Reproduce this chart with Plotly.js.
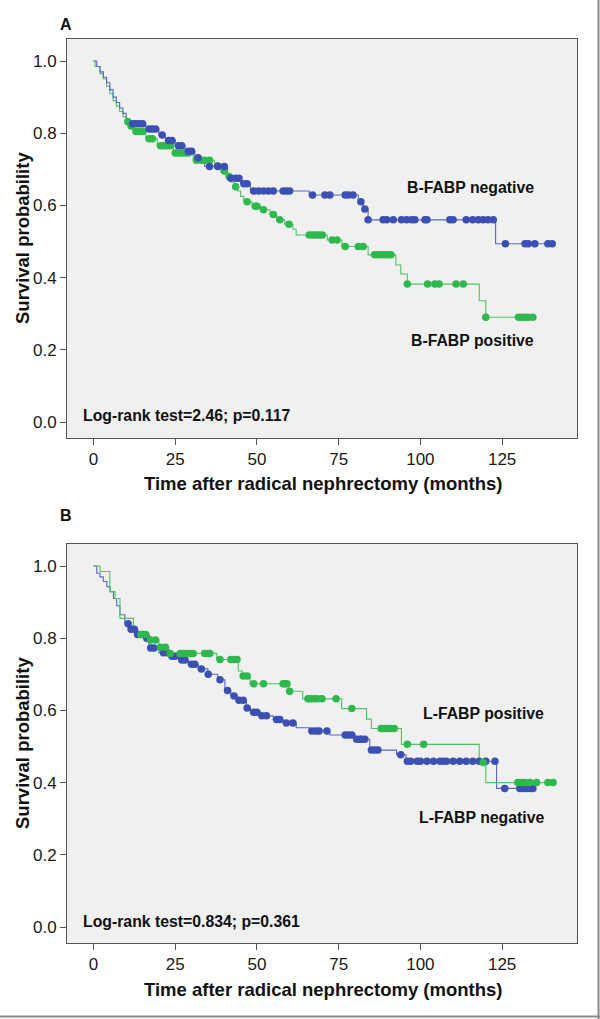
<!DOCTYPE html>
<html><head><meta charset="utf-8">
<script src="https://cdn.plot.ly/plotly-3.0.1.min.js"></script>
<style>html,body{margin:0;padding:0;background:#fff}#chart{width:600px;height:1019px}</style>
</head><body><div id="chart"></div>
<script>
// ---------- Panel A: B-FABP ----------
const aNegTimes = [0,1,2,3,4,5,6,7,8,9,10,11,16,20,22,25,28,31,34,41,45,48,66,81,82.5,84,123];
const aNegSurv  = [1,0.985,0.97,0.955,0.94,0.92,0.90,0.885,0.87,0.855,0.84,0.826,0.812,0.795,0.78,0.765,0.75,0.732,0.708,0.675,0.66,0.64,0.629,0.61,0.59,0.560,0.494];
const aNegCensor = [12,13,14,15,17,18,19,21,23,24,26,27,29,30,32,35.5,38,40,42,43.5,44.5,46,47,49,50.5,52,53.5,55,58,59,60,67,70.8,72.3,77,78,79.4,81.8,83,84,88.6,89.7,91.7,94.2,95.8,97.3,98.3,101.4,102,109,110,114,116,117.7,119.2,120.7,122.3,126,132,133,135,139,140.3];

const aPosTimes = [0,0.5,2,3,4,5,6,7,8,9,10,11,12.2,16,19.5,24.5,30.5,37,39,41,42,43,44,45,46,48.5,51,54,56,58.5,61,62,71.5,76,84,92.5,94,96,118,120];
const aPosSurv  = [1,0.985,0.965,0.95,0.93,0.91,0.89,0.875,0.86,0.845,0.832,0.82,0.805,0.785,0.765,0.745,0.725,0.71,0.695,0.68,0.665,0.652,0.64,0.625,0.61,0.598,0.588,0.575,0.56,0.548,0.534,0.518,0.504,0.486,0.463,0.435,0.41,0.382,0.336,0.29];
const aPosCensor = [10.5,11.5,13,14,15,17,18,20.5,21.5,22.5,23.5,25,26,27,28,29,31.5,33,34,35.5,38,40,41.5,43.5,47,49.5,50,52,55,57,59.8,66,67,68,69,70,73,74.5,77,81,82.5,86,87,88,89,90,91,96,102.2,104.4,105.7,110.9,113.1,120,130,131,132,133,134.4];

// ---------- Panel B: L-FABP ----------
const bNegTimes = [0,1,2,3,4.1,5.1,6.1,7.1,8.1,9.6,11,13.5,15.5,17,20,23,26,29,32,35,38,40.2,42,44,46.8,48,51,55,58,62,66,72.3,80,84.5,92.7,95.6,123.3];
const bNegSurv  = [1,0.98,0.97,0.957,0.943,0.929,0.91,0.89,0.865,0.84,0.825,0.81,0.80,0.773,0.76,0.75,0.74,0.728,0.715,0.70,0.685,0.655,0.64,0.628,0.607,0.595,0.585,0.575,0.565,0.552,0.543,0.532,0.52,0.49,0.477,0.459,0.384];
const bNegCensor = [10.6,11.5,12.5,13.5,15,16.3,17.5,18.5,21.4,22.5,24,25,27,28,30,31,33,35.1,38.7,41,43,44.5,45.8,47,49,50,51.5,52.9,56,57,59,61,66.8,68,69,71.4,77,78,79,80.5,81.5,82,83,85,86,87,94,96,97,99,100,102,104,106,107,108,110,112,114,116,118,120,122.8,125.8,130.4,131.5,132.5,133.5,134.4];

const bPosTimes = [0,2,5,6.6,8.1,12.2,14,17,20,23,37.7,44.3,45.5,47.9,59.6,64,75.9,83.5,85,94.2,118,120];
const bPosSurv  = [1,0.985,0.929,0.91,0.855,0.819,0.81,0.795,0.775,0.758,0.741,0.709,0.695,0.674,0.653,0.632,0.605,0.576,0.55,0.506,0.456,0.40];
const bPosCensor = [14.5,16,17.5,19,20.5,22,23.5,26.5,27.5,28.5,29.5,30.5,34,35,35.6,38.7,42,43,43.9,45.8,47,49,52,58,58.6,59.2,60,65.6,66.5,67.5,68.5,69.9,74.2,79,88,89,90,91,92,96,101,119.2,129.8,131,132,133.5,135.5,139,140.6];

const xTicks = [0,25,50,75,100,125];
const yTicks = [0,0.2,0.4,0.6,0.8,1.0];

const BLUE = '#3c50b4', BLUE_L = '#5568c6';
const GREEN = '#2fb84c', GREEN_L = '#4cc463';

function stepAt(times, surv, t){ let v = surv[0]; for (let i=0;i<times.length;i++){ if (times[i] <= t) v = surv[i]; else break; } return v; }
function lineTrace(times, surv, censor, color, xa, ya){
  const end = Math.max(Math.max(...censor), times[times.length-1]);
  return {x: times.concat([end]), y: surv.concat([surv[surv.length-1]]), type:'scatter', mode:'lines',
    line:{shape:'hv', color:color, width:1.1}, xaxis:xa, yaxis:ya, hoverinfo:'skip', showlegend:false};
}
function censorTrace(times, surv, censor, color, xa, ya){
  return {x: censor, y: censor.map(t => stepAt(times, surv, t)), type:'scatter', mode:'markers',
    marker:{size:7.5, color:color}, xaxis:xa, yaxis:ya, hoverinfo:'skip', showlegend:false};
}

const data = [
  lineTrace(aPosTimes, aPosSurv, aPosCensor, GREEN_L, 'x', 'y'),
  lineTrace(aNegTimes, aNegSurv, aNegCensor, BLUE_L, 'x', 'y'),
  censorTrace(aPosTimes, aPosSurv, aPosCensor, GREEN, 'x', 'y'),
  censorTrace(aNegTimes, aNegSurv, aNegCensor, BLUE, 'x', 'y'),
  lineTrace(bNegTimes, bNegSurv, bNegCensor, BLUE_L, 'x2', 'y2'),
  lineTrace(bPosTimes, bPosSurv, bPosCensor, GREEN_L, 'x2', 'y2'),
  censorTrace(bNegTimes, bNegSurv, bNegCensor, BLUE, 'x2', 'y2'),
  censorTrace(bPosTimes, bPosSurv, bPosCensor, GREEN, 'x2', 'y2')
];

const W = 600, H = 1019;
const px = p => p / W;
const py = p => 1 - p / H;
const FONT = 'Liberation Sans, Arial, sans-serif';

function xAxis(anchor){
  return {domain:[px(67), px(577)], range:[-8.1, 147.9], anchor:anchor, tickvals:xTicks, ticks:'outside', ticklen:6,
    tickcolor:'#555', showline:true, mirror:true, linecolor:'#555', linewidth:1, showgrid:false, zeroline:false,
    tickfont:{family:FONT, size:17, color:'#1a1a1a'}, fixedrange:true};
}
function yAxis(anchor, top, bottom){
  return {domain:[py(bottom), py(top)], range:[-0.0443, 1.061], anchor:anchor, tickvals:yTicks, tickformat:'.1f',
    ticks:'outside', ticklen:6, tickcolor:'#555', showline:true, mirror:true, linecolor:'#555', linewidth:1,
    showgrid:false, zeroline:false, tickfont:{family:FONT, size:17, color:'#1a1a1a'}, fixedrange:true};
}

function ann(text, x, y, xanchor, size, extra){
  return Object.assign({text:text, xref:'paper', yref:'paper', x:px(x), y:py(y), xanchor:xanchor, yanchor:'middle',
    showarrow:false, font:{family:FONT, size:size, color:'#111', weight:'bold'}}, extra||{});
}

const layout = {
  width:W, height:H, margin:{l:0,r:0,t:0,b:0}, paper_bgcolor:'#ffffff', plot_bgcolor:'#f0f0f0',
  showlegend:false, hovermode:false,
  xaxis: xAxis('y'), yaxis: yAxis('x', 39, 438),
  xaxis2: xAxis('y2'), yaxis2: yAxis('x2', 544, 943),
  annotations:[
    ann('A', 66, 24, 'center', 16),
    ann('B', 66, 515, 'center', 16),
    ann('B-FABP negative', 536, 188, 'right', 15.8),
    ann('B-FABP positive', 536, 340, 'right', 15.8),
    ann('L-FABP positive', 546, 713, 'right', 15.8),
    ann('L-FABP negative', 546, 817, 'right', 15.8),
    ann('Log-rank test=2.46; p=0.117', 81, 415, 'left', 15.8),
    ann('Log-rank test=0.834; p=0.361', 81, 921, 'left', 15.8),
    ann('Survival probability', 22, 238, 'center', 18.5, {textangle:-90}),
    ann('Survival probability', 22, 743, 'center', 18.5, {textangle:-90}),
    ann('Time after radical nephrectomy (months)', 323, 483, 'center', 18.5),
    ann('Time after radical nephrectomy (months)', 323, 989, 'center', 18.5)
  ],
  shapes:[
    {type:'line', xref:'paper', yref:'paper', x0:px(598.5), x1:px(598.5), y0:0, y1:1, line:{color:'#8a8a8a', width:2}},
    {type:'line', xref:'paper', yref:'paper', x0:0, x1:1, y0:py(1016.5), y1:py(1016.5), line:{color:'#8a8a8a', width:2}}
  ]
};

Plotly.newPlot('chart', data, layout, {displayModeBar:false, staticPlot:true});
</script>
</body></html>
